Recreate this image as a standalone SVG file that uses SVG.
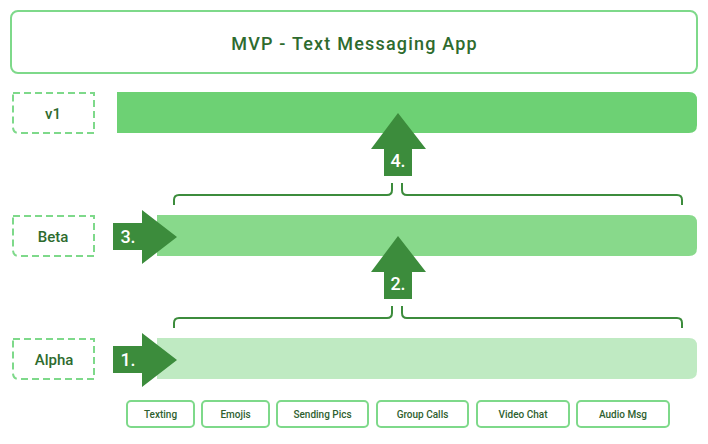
<svg xmlns="http://www.w3.org/2000/svg" width="708" height="444" viewBox="0 0 708 444">
<style>
.lbl{fill:none;stroke:#7ED98A;stroke-width:2;stroke-dasharray:7,4}
.ltxt{font-family:Roboto,"Liberation Sans",sans-serif;font-size:15px;font-weight:500;fill:#2E6B2E;text-anchor:middle}
.arr{fill:#3C8C3C}
.num{font-family:Roboto,"Liberation Sans",sans-serif;font-size:18px;font-weight:500;fill:#FFFFFF;text-anchor:middle}
.brace{fill:none;stroke:#3C8C3C;stroke-width:2}
.feat{fill:#FFFFFF;stroke:#7ED98A;stroke-width:2}
.ftxt{font-family:Roboto,"Liberation Sans",sans-serif;font-size:10px;font-weight:500;fill:#2F5F2F;text-anchor:middle}
</style>
<rect width="708" height="444" fill="#FFFFFF"/>
<g id="title">
<rect x="11" y="11" width="686" height="62" rx="7" fill="#FFFFFF" stroke="#7ED98A" stroke-width="2"/>
<text x="354.6" y="50" font-family="Roboto,'Liberation Sans',sans-serif" font-size="18" font-weight="500" fill="#2E6B2E" text-anchor="middle" letter-spacing="1.2">MVP - Text Messaging App</text>
</g>
<g id="label-v1">
<path class="lbl" d="M13,93 H94 V133 H19 Q13,133 13,127 Z"/>
<text class="ltxt" x="53" y="119">v1</text>
</g>
<g id="label-beta">
<path class="lbl" d="M13,216 H94 V256 H19 Q13,256 13,250 Z"/>
<text class="ltxt" x="53" y="242">Beta</text>
</g>
<g id="label-alpha">
<path class="lbl" d="M13,339 H94 V379 H19 Q13,379 13,373 Z"/>
<text class="ltxt" x="54" y="365">Alpha</text>
</g>
<g id="bar-v1"><path d="M117,92 H689 Q697,92 697,100 V125 Q697,133 689,133 H117 Z" fill="#6DD174"/></g>
<g id="bar-beta"><path d="M157,215 H689 Q697,215 697,223 V248 Q697,256 689,256 H157 Z" fill="#88D98B"/></g>
<g id="bar-alpha"><path d="M157,338 H689 Q697,338 697,346 V371 Q697,379 689,379 H157 Z" fill="#BFEAC2"/></g>
<g id="connectors">
<path class="brace" d="M174,205 V200 Q174,195 179,195 H387 Q392,195 392,190 V183"/>
<path class="brace" d="M402,183 V190 Q402,195 407,195 H677 Q682,195 682,200 V205"/>
<path class="brace" d="M174,328 V323 Q174,318 179,318 H387 Q392,318 392,313 V306"/>
<path class="brace" d="M402,306 V313 Q402,318 407,318 H677 Q682,318 682,323 V328"/>
</g>
<g id="arrow-1">
<path class="arr" d="M113,346 H142 V333 L177,360 L142,387 V373 H113 Z"/>
<text class="num" x="128" y="366">1.</text>
</g>
<g id="arrow-2">
<path class="arr" d="M384,299 V272 H371 L398,236 L426,272 H412 V299 Z"/>
<text class="num" x="398" y="290">2.</text>
</g>
<g id="arrow-3">
<path class="arr" d="M113,223 H142 V210 L177,237 L142,264 V250 H113 Z"/>
<text class="num" x="128" y="243">3.</text>
</g>
<g id="arrow-4">
<path class="arr" d="M384,176 V149 H371 L398,113 L426,149 H412 V176 Z"/>
<text class="num" x="398" y="167">4.</text>
</g>
<g id="feature-texting"><rect class="feat" x="127" y="401" width="67" height="26" rx="4"/><text class="ftxt" x="160.5" y="418">Texting</text></g>
<g id="feature-emojis"><rect class="feat" x="202" y="401" width="67" height="26" rx="4"/><text class="ftxt" x="235.5" y="418">Emojis</text></g>
<g id="feature-sending-pics"><rect class="feat" x="277" y="401" width="91" height="26" rx="4"/><text class="ftxt" x="322.5" y="418">Sending Pics</text></g>
<g id="feature-group-calls"><rect class="feat" x="377" y="401" width="91" height="26" rx="4"/><text class="ftxt" x="422.5" y="418">Group Calls</text></g>
<g id="feature-video-chat"><rect class="feat" x="477" y="401" width="92" height="26" rx="4"/><text class="ftxt" x="523" y="418">Video Chat</text></g>
<g id="feature-audio-msg"><rect class="feat" x="577" y="401" width="92" height="26" rx="4"/><text class="ftxt" x="623" y="418">Audio Msg</text></g>
</svg>
